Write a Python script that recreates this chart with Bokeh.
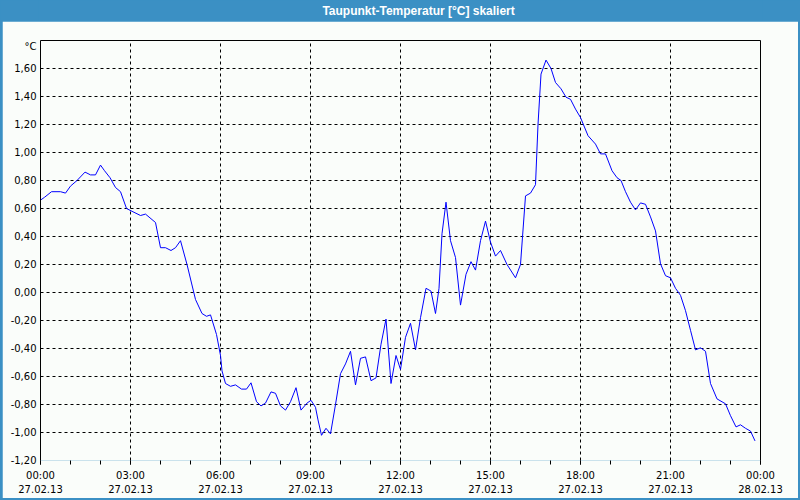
from bokeh.plotting import figure
from bokeh.models import Range1d, FixedTicker, LinearAxis
from bokeh.layouts import column
from bokeh.core.properties import value
from bokeh.embed import file_html
from bokeh.resources import INLINE

TITLE = "Taupunkt-Temperatur [°C] skaliert"
Y_UNIT = "°C"

# minutes since 27.02.13 00:00
TIME_MIN = [0, 8, 22, 40, 50, 60, 73, 89, 100, 110, 120, 128, 139, 150, 160, 172, 183, 200, 210, 230,
            240, 250, 261, 270, 280, 293, 310, 323, 332, 340, 352, 360, 363, 370, 380, 390, 402, 412,
            421, 432, 441, 450, 461, 470, 480, 490, 500, 511, 521, 533, 541, 550, 555, 562, 571, 580,
            590, 600, 610, 620, 630, 640, 650, 661, 671, 681, 691, 701, 711, 720, 730, 740, 750, 760,
            771, 781, 790, 797, 803, 811, 820, 830, 840, 851, 861, 870, 880, 890, 900, 910, 920, 933,
            950, 960, 970, 980, 990, 995, 1001, 1011, 1021, 1030, 1041, 1051, 1060, 1070, 1080, 1095,
            1110, 1120, 1130, 1143, 1153, 1161, 1170, 1180, 1190, 1200, 1210, 1220, 1230, 1240, 1250,
            1260, 1270, 1280, 1290, 1300, 1310, 1320, 1330, 1340, 1353, 1370, 1380, 1391, 1400, 1410,
            1420, 1429]
DEWPOINT = [0.66, 0.68, 0.72, 0.72, 0.71, 0.76, 0.80, 0.86, 0.84, 0.84, 0.91, 0.87, 0.82, 0.75, 0.72,
            0.60, 0.58, 0.55, 0.56, 0.50, 0.32, 0.32, 0.30, 0.32, 0.37, 0.20, -0.05, -0.15, -0.17, -0.16,
            -0.30, -0.45, -0.56, -0.65, -0.67, -0.66, -0.69, -0.69, -0.645, -0.78, -0.81, -0.79, -0.71,
            -0.72, -0.81, -0.84, -0.78, -0.68, -0.84, -0.79, -0.77, -0.82, -0.91, -1.02, -0.97, -1.01,
            -0.80, -0.58, -0.51, -0.42, -0.66, -0.47, -0.46, -0.63, -0.61, -0.37, -0.19, -0.65, -0.45,
            -0.55, -0.32, -0.22, -0.41, -0.18, 0.03, 0.01, -0.15, 0.03, 0.42, 0.645, 0.37, 0.25, -0.09,
            0.13, 0.22, 0.16, 0.37, 0.51, 0.36, 0.26, 0.30, 0.20, 0.105, 0.20, 0.69, 0.71, 0.77, 1.20,
            1.56, 1.66, 1.60, 1.50, 1.455, 1.395, 1.38, 1.31, 1.25, 1.12, 1.06, 0.99, 0.99, 0.87, 0.82,
            0.80, 0.72, 0.645, 0.59, 0.64, 0.63, 0.54, 0.44, 0.205, 0.12, 0.105, 0.03, -0.02, -0.13,
            -0.27, -0.41, -0.395, -0.42, -0.65, -0.76, -0.795, -0.88, -0.96, -0.945, -0.97, -0.99, -1.06]

X_TICK_HOURS = [0, 3, 6, 9, 12, 15, 18, 21, 24]
X_TICK_LABELS = ["00:00\n27.02.13", "03:00\n27.02.13", "06:00\n27.02.13", "09:00\n27.02.13",
                 "12:00\n27.02.13", "15:00\n27.02.13", "18:00\n27.02.13", "21:00\n27.02.13",
                 "00:00\n28.02.13"]
X_MINOR_HOURS = list(range(0, 25))
Y_TICKS = [-1.2, -1.0, -0.8, -0.6, -0.4, -0.2, 0.0, 0.2, 0.4, 0.6, 0.8, 1.0, 1.2, 1.4, 1.6]
Y_TICK_LABELS = ["-1,20", "-1,00", "-0,80", "-0,60", "-0,40", "-0,20", "0,00", "0,20", "0,40",
                 "0,60", "0,80", "1,00", "1,20", "1,40", "1,60"]

BLUE = "#3b90c4"
BG = "#fafdfa"
FONT = "DejaVu Sans"
UNIT_LABEL_POS = 1.757   # where the unit caption sits on the y axis (just under the top edge)

hours = [m / 60.0 for m in TIME_MIN]

# ---- title bar
t = figure(width=800, height=21, x_range=Range1d(0, 800), y_range=Range1d(0, 21),
           output_backend="svg", toolbar_location=None, min_border=0)
t.axis.visible = False
t.grid.visible = False
t.outline_line_color = None
t.background_fill_color = BLUE
t.border_fill_color = BLUE
t.text(x=[420], y=[10.5], text=[TITLE], text_color="white", text_font=value("Liberation Sans"),
       text_font_size="12px", text_font_style="bold", text_align="center", text_baseline="middle")

# ---- chart
p = figure(frame_width=720, frame_height=420, x_range=Range1d(0, 24), y_range=Range1d(-1.2, 1.8),
           output_backend="svg", toolbar_location=None,
           min_border_left=38, min_border_right=38, min_border_top=19, min_border_bottom=38,
           margin=(0, 2, 2, 2))
p.background_fill_color = BG
p.border_fill_color = BG
p.outline_line_color = None

p.line(hours, DEWPOINT, line_color="#0000ff", line_width=1)

xa = p.xaxis[0]
xa.ticker = FixedTicker(ticks=X_TICK_HOURS, minor_ticks=X_MINOR_HOURS)
xa.major_label_overrides = dict(zip(X_TICK_HOURS, X_TICK_LABELS))
xa.axis_line_color = None
xa.major_tick_in = 0
xa.major_tick_out = 4
xa.minor_tick_in = 0
xa.minor_tick_out = 4
xa.major_tick_line_color = "black"
xa.minor_tick_line_color = "black"
xa.major_label_standoff = 5
xa.major_label_text_font = FONT
xa.major_label_text_font_size = "10px"
xa.major_label_text_color = "black"
xa.major_label_text_line_height = 1.3

ya = p.yaxis[0]
ya.ticker = FixedTicker(ticks=Y_TICKS + [UNIT_LABEL_POS])
overrides = dict(zip(Y_TICKS, Y_TICK_LABELS))
overrides[UNIT_LABEL_POS] = Y_UNIT
ya.major_label_overrides = overrides
ya.axis_line_color = "black"
ya.major_tick_in = 0
ya.major_tick_out = 0
ya.minor_tick_line_color = None
ya.major_label_standoff = 4
ya.major_label_text_font = FONT
ya.major_label_text_font_size = "10px"
ya.major_label_text_color = "black"

for loc in ("right", "above"):
    ax = LinearAxis(ticker=FixedTicker(ticks=[]), axis_line_color="black",
                    major_tick_line_color=None, minor_tick_line_color=None,
                    major_label_text_font_size="0px")
    p.add_layout(ax, loc)

p.xgrid.ticker = FixedTicker(ticks=X_TICK_HOURS)
p.ygrid.ticker = FixedTicker(ticks=Y_TICKS)
for g in (p.xgrid[0], p.ygrid[0]):
    g.grid_line_color = "black"
    g.grid_line_dash = "3 3"
    g.grid_line_width = 1

layout = column(t, p, spacing=0, styles={"background-color": BLUE})

open("out.html", "w").write(file_html(layout, INLINE))
